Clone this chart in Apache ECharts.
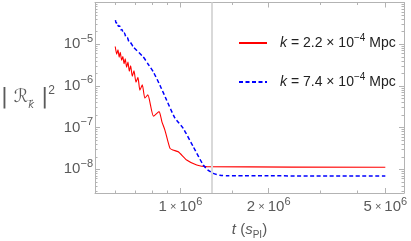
<!DOCTYPE html>
<html><head><meta charset="utf-8">
<script src="https://cdn.jsdelivr.net/npm/echarts@6/dist/echarts.min.js"></script>
<style>html,body{margin:0;padding:0;background:#fff}#c{width:411px;height:241px}</style>
</head><body><div id="c"></div>
<script>
// ---- data ----
const redT = [5.99e5,6.06e5,6.12e5,6.18e5,6.23e5,6.30e5,6.36e5,6.42e5,6.48e5,6.55e5,6.62e5,6.69e5,6.76e5,6.85e5,6.94e5,7.05e5,7.16e5,7.27e5,7.41e5,7.56e5,7.74e5,8.09e5,8.45e5,8.65e5,8.85e5,9.21e5,9.43e5,9.83e5,1.050e6,1.136e6,1.228e6,5.0e6];
const redR = [8.81e-6,5.77e-6,7.31e-6,4.89e-6,6.43e-6,4.14e-6,5.08e-6,3.41e-6,4.45e-6,2.81e-6,3.71e-6,2.26e-6,3.02e-6,1.71e-6,2.30e-6,1.23e-6,1.60e-6,7.92e-7,1.06e-6,5.10e-7,6.11e-7,1.89e-7,2.42e-7,1.36e-7,8.73e-8,3.18e-8,2.90e-8,2.64e-8,1.67e-8,1.27e-8,1.16e-8,1.12e-8];
const blueT = [6.0e5,6.03e5,6.09e5,6.14e5,6.20e5,6.26e5,6.32e5,6.38e5,6.44e5,6.52e5,6.59e5,6.67e5,6.75e5,6.90e5,7.46e5,7.74e5,8.08e5,8.51e5,8.97e5,9.58e5,1.022e6,1.106e6,1.196e6,1.241e6,1.294e6,1.364e6,1.438e6,5.0e6];
const blueR = [3.76e-5,3.22e-5,3.30e-5,2.68e-5,2.74e-5,2.22e-5,2.26e-5,1.82e-5,1.85e-5,1.46e-5,1.45e-5,1.15e-5,1.11e-5,8.62e-6,4.97e-6,3.41e-6,2.17e-6,1.04e-6,4.56e-7,1.69e-7,9.59e-8,3.48e-8,1.27e-8,9.62e-9,8.02e-9,7.22e-9,7.03e-9,6.92e-9];
const legendLabels = ['k = 2.2 × 10^−4 Mpc', 'k = 7.4 × 10^−4 Mpc'];
const xLabelTicks = [1e6, 2e6, 5e6];
const xMinorTicks = [6e5, 7e5, 8e5, 9e5, 1.5e6, 3e6, 4e6];
const yLabelTicks = [1e-8, 1e-7, 1e-6, 1e-5];
const markerT = 1.28e6;
const xMin = 5.11e5, xMax = 5.79e6, yMin = 2.71e-9, yMax = 1e-4;

const yMinorTicks = [];
for (let e = -9; e <= -5; e++) for (let m = 2; m <= 9; m++) { const v = m * Math.pow(10, e); if (v > yMin && v < yMax) yMinorTicks.push(v); }

const frame = '#b3b3b3';
const labCol = '#5a5a5a';
const FONT = 'Liberation Sans, Arial, sans-serif';

function xFmt(v) {
  const e = Math.floor(Math.log10(v) + 1e-9);
  const m = Math.round(v / Math.pow(10, e));
  return '{b|' + m + '}{x| × }{b|10}{s|' + e + '}';
}
function yFmt(v) {
  const e = Math.round(Math.log10(v));
  return '{b|10}{s|' + (e < 0 ? '−' + (-e) : e) + '}';
}
const labelRich = {
  b: { fontSize: 15, color: labCol, fontFamily: FONT, lineHeight: 22 },
  x: { fontSize: 11, color: labCol, fontFamily: FONT, lineHeight: 22 },
  s: { fontSize: 11, color: labCol, fontFamily: FONT, lineHeight: 12, verticalAlign: 'top' }
};

function xAxisDef(pos, major) {
  return {
    type: 'log', min: xMin, max: xMax, position: pos, gridIndex: 0,
    axisLine: { show: major, lineStyle: { color: frame, width: 1 } },
    axisTick: { show: true, inside: true, length: major ? 5 : 2.5, customValues: major ? xLabelTicks : xMinorTicks, lineStyle: { color: frame } },
    axisLabel: (major && pos === 'bottom') ? { show: true, customValues: xLabelTicks, formatter: xFmt, rich: labelRich, margin: 3 } : { show: false },
    splitLine: { show: false }, minorTick: { show: false }
  };
}
function yAxisDef(pos, major) {
  return {
    type: 'log', min: yMin, max: yMax, position: pos, gridIndex: 0,
    axisLine: { show: major, lineStyle: { color: frame, width: 1 } },
    axisTick: { show: true, inside: true, length: major ? 5 : 2.5, customValues: major ? yLabelTicks : yMinorTicks, lineStyle: { color: frame } },
    axisLabel: (major && pos === 'left') ? { show: true, customValues: yLabelTicks, formatter: yFmt, rich: labelRich, margin: 2 } : { show: false },
    splitLine: { show: false }, minorTick: { show: false }
  };
}

const xAxes = [xAxisDef('bottom', true), xAxisDef('bottom', false), xAxisDef('top', true), xAxisDef('top', false)];
xAxes[0].name = '{i|t} ({i|s}{sub|PI})';
xAxes[0].nameLocation = 'middle';
xAxes[0].nameGap = 27;
xAxes[0].nameTextStyle = {
  rich: {
    i: { fontSize: 15, fontStyle: 'italic', color: labCol, fontFamily: FONT },
    sub: { fontSize: 10, color: labCol, fontFamily: FONT, verticalAlign: 'bottom', lineHeight: 12 }
  },
  fontSize: 15, color: labCol, fontFamily: FONT, lineHeight: 20
};
const yAxes = [yAxisDef('left', true), yAxisDef('left', false), yAxisDef('right', true), yAxisDef('right', false)];
yAxes[0].name = '{bar||}{r| ℛ}{k|k⃗}{bar| |}{s|2}';
yAxes[0].nameLocation = 'middle';
yAxes[0].nameRotate = 0;
yAxes[0].nameGap = 40;
yAxes[0].nameTextStyle = {
  rich: {
    bar: { fontSize: 22, color: labCol, fontFamily: 'DejaVu Sans', lineHeight: 26 },
    r: { fontSize: 18, color: labCol, fontFamily: 'DejaVu Sans', fontStyle: 'italic', lineHeight: 26 },
    k: { fontSize: 10, color: labCol, fontFamily: 'DejaVu Sans', fontStyle: 'italic', verticalAlign: 'bottom', lineHeight: 14 },
    s: { fontSize: 12, color: labCol, fontFamily: FONT, verticalAlign: 'top', lineHeight: 14 }
  }
};

function zip(a, b) { return a.map((v, i) => [v, b[i]]); }

function legendFmt(name) {
  const i = name === 'red' ? 0 : 1;
  const parts = legendLabels[i].split('^');
  const head = parts[0].slice(1); // after 'k'
  const rest = parts[1];
  const supStr = rest.split(' ')[0];
  const tail = rest.slice(supStr.length);
  return '{i|k}{t|' + head + '}{s|' + supStr + '}{t|' + tail + '}';
}

const chart = echarts.init(document.getElementById('c'), null, { renderer: 'canvas' });
chart.setOption({
  animation: false,
  backgroundColor: '#fff',
  grid: { left: 95, right: 7, top: 2.5, bottom: 48, containLabel: false, outerBoundsMode: 'none' },
  xAxis: xAxes,
  yAxis: yAxes,
  legend: {
    orient: 'vertical', left: 238, top: 33, padding: 0,
    itemWidth: 28, itemHeight: 14, itemGap: 22,
    data: ['red', 'blue'],
    formatter: legendFmt,
    itemStyle: { opacity: 0, borderWidth: 0 },
    textStyle: {
      rich: {
        i: { fontSize: 14, fontStyle: 'italic', color: '#222', fontFamily: FONT, padding: [0, 0, 0, 8], lineHeight: 20 },
        t: { fontSize: 14, color: '#222', fontFamily: FONT, lineHeight: 20 },
        s: { fontSize: 10, color: '#222', fontFamily: FONT, verticalAlign: 'top', lineHeight: 12 }
      }
    }
  },
  series: [
    {
      name: 'red', type: 'line', xAxisIndex: 0, yAxisIndex: 0,
      data: zip(redT, redR), showSymbol: false, symbol: 'none', smooth: 0.2,
      lineStyle: { color: '#ff0000', width: 1.1 }, itemStyle: { color: '#ff0000' },
      markLine: {
        silent: true, symbol: 'none', label: { show: false },
        lineStyle: { color: '#d9d9d9', width: 2, type: 'solid' },
        data: [{ xAxis: markerT }]
      },
      z: 3
    },
    {
      name: 'blue', type: 'line', xAxisIndex: 0, yAxisIndex: 0,
      data: zip(blueT, blueR), showSymbol: false, symbol: 'none', smooth: 0.2,
      lineStyle: { color: '#0000ff', width: 1.5, type: [4, 2.5] }, itemStyle: { color: '#0000ff' },
      z: 4
    }
  ]
});
</script></body></html>
